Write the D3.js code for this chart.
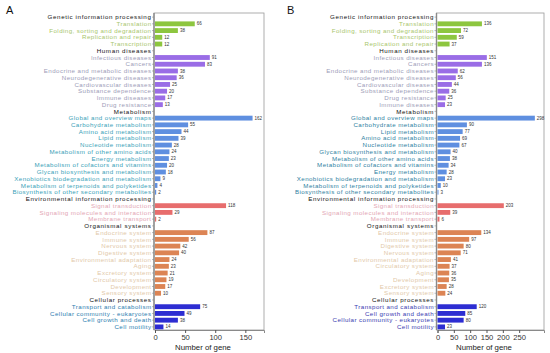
<!DOCTYPE html>
<html>
<head>
<meta charset="utf-8">
<script src="https://cdn.jsdelivr.net/npm/d3@7"></script>
<style>
body { margin: 0; background: #fff; }
svg { font-family: "Liberation Sans", Arial, sans-serif; }
</style>
</head>
<body>
<svg width="550" height="353"></svg>
<script>
// pathway groups (same order in both panels)
var groups = ["Genetic information processing", "Human diseases", "Metabolism",
  "Environmental information processing", "Organismal systems", "Cellular processes"];

// panel A
var catsA = [
  ["Translation", "Folding, sorting and degradation", "Replication and repair", "Transcription"],
  ["Infectious diseases", "Cancers", "Endocrine and metabolic diseases", "Neurodegenerative diseases",
   "Cardiovascular diseases", "Substance dependence", "Immune diseases", "Drug resistance"],
  ["Global and overview maps", "Carbohydrate metabolism", "Amino acid metabolism", "Lipid metabolism",
   "Nucleotide metabolism", "Metabolism of other amino acids", "Energy metabolism",
   "Metabolism of cofactors and vitamins", "Glycan biosynthesis and metabolism",
   "Xenobiotics biodegradation and metabolism", "Metabolism of terpenoids and polyketides",
   "Biosynthesis of other secondary metabolites"],
  ["Signal transduction", "Signaling molecules and interaction", "Membrane transport"],
  ["Endocrine system", "Immune system", "Nervous system", "Digestive system", "Environmental adaptation",
   "Aging", "Excretory system", "Circulatory system", "Development", "Sensory system"],
  ["Transport and catabolism", "Cellular community - eukaryotes", "Cell growth and death", "Cell motility"]
];
var valsA = [
  [66, 38, 12, 12],
  [91, 83, 38, 36, 25, 20, 17, 13],
  [162, 55, 44, 39, 28, 24, 23, 20, 18, 9, 4, 2],
  [118, 29, 2],
  [87, 56, 42, 40, 24, 23, 21, 19, 17, 10],
  [75, 49, 38, 14]
];
var ticksA = [0, 50, 100, 150];

// panel B
var catsB = [
  ["Translation", "Folding, sorting and degradation", "Transcription", "Replication and repair"],
  ["Infectious diseases", "Cancers", "Endocrine and metabolic diseases", "Neurodegenerative diseases",
   "Cardiovascular diseases", "Substance dependence", "Drug resistance", "Immune diseases"],
  ["Global and overview maps", "Carbohydrate metabolism", "Lipid metabolism", "Amino acid metabolism",
   "Nucleotide metabolism", "Glycan biosynthesis and metabolism", "Metabolism of other amino acids",
   "Metabolism of cofactors and vitamins", "Energy metabolism",
   "Xenobiotics biodegradation and metabolism", "Metabolism of terpenoids and polyketides",
   "Biosynthesis of other secondary metabolites"],
  ["Signal transduction", "Signaling molecules and interaction", "Membrane transport"],
  ["Endocrine system", "Immune system", "Digestive system", "Nervous system", "Environmental adaptation",
   "Circulatory system", "Aging", "Development", "Excretory system", "Sensory system"],
  ["Transport and catabolism", "Cell growth and death", "Cellular community - eukaryotes", "Cell motility"]
];
var valsB = [
  [136, 72, 59, 37],
  [151, 136, 62, 56, 44, 36, 25, 23],
  [298, 90, 77, 69, 67, 40, 38, 34, 28, 23, 10, 3],
  [203, 39, 6],
  [134, 97, 80, 71, 41, 37, 36, 35, 28, 24],
  [120, 85, 80, 23]
];
var ticksB = [0, 50, 100, 150, 200, 250];

var barColors = ["#8dc63f", "#9a6de6", "#5f8fe0", "#e76d6d", "#dc8454", "#2d2dd2"];
var labelColorsA = ["#a8c66c", "#9d9db8", "#3a9fb8", "#e3a6b4", "#e2c8a8", "#2c7eb0"];
var labelColorsB = ["#a8c66c", "#9d9db8", "#2f7f9f", "#e3a6b4", "#e2c8a8", "#3b3bb0"];

var svg = d3.select("svg");

// flatten groups into rows: header row then its categories
function buildRows(cats, vals) {
  var rows = [];
  groups.forEach(function(g, gi) {
    rows.push({ name: g, header: true, group: gi, key: "h" + gi });
    cats[gi].forEach(function(c, ci) {
      rows.push({ name: c, header: false, group: gi, value: vals[gi][ci], key: gi + "_" + ci });
    });
  });
  return rows;
}

function drawPanel(opt) {
  var rows = buildRows(opt.cats, opt.vals);
  var g = svg.append("g");

  var y = d3.scaleBand()
    .domain(rows.map(function(d) { return d.key; }))
    .range([opt.top, opt.bottom])
    .paddingInner(0.28)
    .paddingOuter(0.1);

  var x = d3.scaleLinear()
    .domain([0, opt.xmax])
    .range([opt.left, opt.right]);

  // frame
  g.append("rect")
    .attr("x", opt.left - 1)
    .attr("y", opt.top - 1)
    .attr("width", opt.right - opt.left + 1)
    .attr("height", opt.bottom - opt.top + 1)
    .attr("fill", "none")
    .attr("stroke", "#9a9a9a")
    .attr("stroke-width", 0.8);

  // thicker left axis line
  g.append("line")
    .attr("x1", opt.left - 1).attr("x2", opt.left - 1)
    .attr("y1", opt.top - 1).attr("y2", opt.bottom)
    .attr("stroke", "#8a8a8a")
    .attr("stroke-width", 1.4);

  // row ticks on the left
  g.selectAll("line.rtick")
    .data(rows)
    .enter().append("line")
    .attr("class", "rtick")
    .attr("x1", opt.left - 3).attr("x2", opt.left - 1)
    .attr("y1", function(d) { return y(d.key) + y.bandwidth() / 2; })
    .attr("y2", function(d) { return y(d.key) + y.bandwidth() / 2; })
    .attr("stroke", "#8a8a8a")
    .attr("stroke-width", 0.6);

  // category labels: small font, spaced out to the width of the original
  g.selectAll("text.cat")
    .data(rows)
    .enter().append("text")
    .attr("class", "cat")
    .attr("x", opt.left - 3.5)
    .attr("y", function(d) { return y(d.key) + y.bandwidth() / 2; })
    .attr("dy", "0.35em")
    .attr("text-anchor", "end")
    .attr("font-size", 6.2)
    .attr("letter-spacing", function(d) { return d.header ? 0.62 : 0.42; })
    .attr("fill", function(d) { return d.header ? "#111" : opt.labelColors[d.group]; })
    .text(function(d) { return d.name; });

  var data = rows.filter(function(d) { return !d.header; });

  // bars
  g.selectAll("rect.bar")
    .data(data)
    .enter().append("rect")
    .attr("class", "bar")
    .attr("x", x(0))
    .attr("y", function(d) { return y(d.key); })
    .attr("width", function(d) { return x(d.value) - x(0); })
    .attr("height", y.bandwidth())
    .attr("fill", function(d) { return barColors[d.group]; });

  // value labels
  g.selectAll("text.val")
    .data(data)
    .enter().append("text")
    .attr("class", "val")
    .attr("x", function(d) { return x(d.value) + 2; })
    .attr("y", function(d) { return y(d.key) + y.bandwidth() / 2; })
    .attr("dy", "0.35em")
    .attr("font-size", 4.5)
    .attr("fill", "#333")
    .text(function(d) { return d.value; });

  // x axis
  var axis = g.append("g")
    .attr("transform", "translate(0," + opt.bottom + ")")
    .call(d3.axisBottom(x).tickValues(opt.ticks).tickSize(3).tickPadding(1.5));
  axis.select(".domain").attr("stroke", "#8a8a8a");
  axis.selectAll(".tick line").attr("stroke", "#555");
  axis.selectAll(".tick text")
    .attr("font-size", 7.6)
    .attr("fill", "#333");

  g.append("text")
    .attr("x", opt.titleX)
    .attr("y", 350)
    .attr("text-anchor", "middle")
    .attr("font-size", 7.8)
    .attr("fill", "#222")
    .text("Number of gene");

  g.append("text")
    .attr("x", opt.letterX)
    .attr("y", 14)
    .attr("font-size", 11)
    .attr("fill", "#111")
    .text(opt.letter);
}

drawPanel({
  letter: "A", letterX: 6,
  cats: catsA, vals: valsA, ticks: ticksA,
  labelColors: labelColorsA,
  left: 155, right: 264, top: 14, bottom: 330, xmax: 181,
  titleX: 203
});

drawPanel({
  letter: "B", letterX: 287,
  cats: catsB, vals: valsB, ticks: ticksB,
  labelColors: labelColorsB,
  left: 437.5, right: 544, top: 14, bottom: 330, xmax: 326,
  titleX: 484
});
</script>
</body>
</html>
